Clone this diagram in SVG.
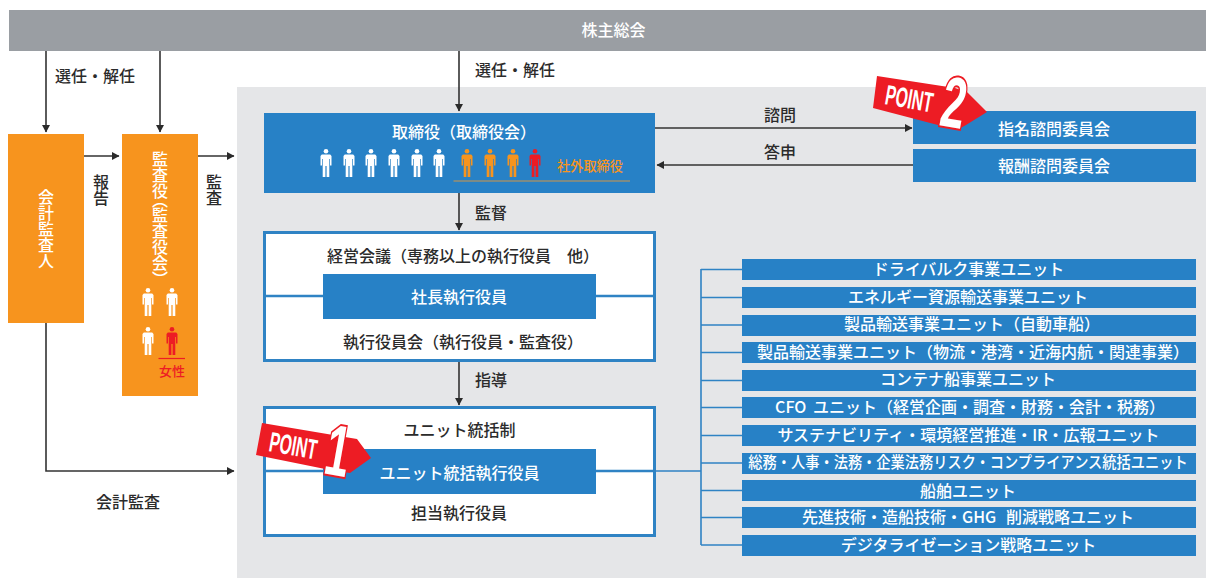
<svg xmlns="http://www.w3.org/2000/svg" xmlns:xlink="http://www.w3.org/1999/xlink" width="1206" height="578" viewBox="0 0 1206 578">
<style>
text{font-family:"Noto Sans CJK JP","Noto Sans",sans-serif;font-weight:500}
.c{text-anchor:middle}
.w{fill:#fff;font-size:16px}
.d{fill:#2b2b2b;font-size:16px}
.v{writing-mode:vertical-rl;text-anchor:middle;font-size:16px;font-feature-settings:"vpal"}
.blue{fill:#2781c6}
.org{fill:#f7941e}
.ln{stroke:#333;stroke-width:1.6;fill:none}
.bl{stroke:#2f83c4;stroke-width:1.6;fill:none}
.frame{fill:#fff;stroke:#2f83c4;stroke-width:3}
.pt{font-family:"Liberation Sans",sans-serif;font-weight:700;fill:#fff}
</style>
<defs>
<marker id="a" markerWidth="8" markerHeight="8" refX="7" refY="4" orient="auto" markerUnits="userSpaceOnUse"><path d="M0 0L7.500 4L0 8Z" fill="#2b2b2b"/></marker>
<symbol id="p" viewBox="0 0 12 28" overflow="visible"><circle cx="6" cy="2.300" r="2.300"/><path d="M1.800 5.500H10.200L11.500 7V16.500H10V10H9.300V28H6.600V17H5.400V28H2.700V10H2V16.500H.5V7Z"/></symbol>
</defs>
<rect id="panel" x="237" y="87" width="969" height="491" fill="#e5e6e8"/>
<g id="connectors">
<path class="ln" marker-end="url(#a)" d="M46 51V132"/>
<path class="ln" marker-end="url(#a)" d="M160 51V132"/>
<path class="ln" marker-end="url(#a)" d="M459 51V111"/>
<path class="ln" marker-end="url(#a)" d="M84 156H119"/>
<path class="ln" marker-end="url(#a)" d="M198 156H234"/>
<path class="ln" marker-end="url(#a)" d="M655 128H912"/>
<path class="ln" marker-end="url(#a)" d="M913 165H657"/>
<path class="ln" marker-end="url(#a)" d="M459 193V230"/>
<path class="ln" marker-end="url(#a)" d="M459 361V405"/>
<path class="ln" marker-end="url(#a)" d="M46 323V471H234"/>
</g>
<g id="n-shareholders"><rect x="9" y="10" width="1197" height="41" fill="#9a9ea3"/><text class="c w" x="613.500" y="36">株主総会</text></g>
<g id="n-accountant"><rect class="org" x="8" y="134" width="76" height="189"/><text class="v" fill="#fff" x="46" y="228.500">会計監査人</text></g>
<g id="n-auditors"><rect class="org" x="122" y="134" width="76" height="262"/><text class="v" fill="#fff" x="160" y="215">監査役（監査役会）</text>
<g fill="#fff"><use xlink:href="#p" x="142" y="288" width="12" height="28"/><use xlink:href="#p" x="166" y="288" width="12" height="28"/><use xlink:href="#p" x="142" y="327" width="12" height="28"/></g><use xlink:href="#p" x="166" y="327" width="12" height="28" fill="#ed1c24"/>
<path d="M158.500 358.500H185" stroke="#ed1c24" stroke-width="1.200"/><text class="c" x="172" y="376" font-size="13" fill="#ed1c24">女性</text></g>
<g id="n-board"><rect class="blue" x="264" y="113" width="391" height="80"/><text class="c w" x="464" y="138">取締役（取締役会）</text>
<g fill="#fff"><use xlink:href="#p" x="320" y="149" width="12" height="28"/><use xlink:href="#p" x="343" y="149" width="12" height="28"/><use xlink:href="#p" x="365" y="149" width="12" height="28"/><use xlink:href="#p" x="388" y="149" width="12" height="28"/><use xlink:href="#p" x="411" y="149" width="12" height="28"/><use xlink:href="#p" x="433" y="149" width="12" height="28"/></g>
<g fill="#f7941e"><use xlink:href="#p" x="461" y="149" width="12" height="28"/><use xlink:href="#p" x="484" y="149" width="12" height="28"/><use xlink:href="#p" x="507" y="149" width="12" height="28"/></g><use xlink:href="#p" x="529" y="149" width="12" height="28" fill="#ed1c24"/>
<path d="M453.500 181H630" stroke="#9a8f70" stroke-width="1.500"/><text class="c" x="590" y="171" font-size="13.200" fill="#f7941e">社外取締役</text></g>
<g id="n-nomination"><rect class="blue" x="913" y="111" width="283" height="33"/><text class="c w" x="1054" y="135">指名諮問委員会</text></g>
<g id="n-remuneration"><rect class="blue" x="913" y="149" width="283" height="33"/><text class="c w" x="1054" y="172">報酬諮問委員会</text></g>
<g id="n-management"><rect class="frame" x="264.500" y="232.500" width="390" height="128"/><path class="bl" style="stroke-width:2.500" d="M264 296H655"/><rect class="blue" x="323" y="274" width="273" height="45"/>
<text class="c d" x="463" y="262">経営会議（専務以上の執行役員　他）</text><text class="c w" x="459" y="303">社長執行役員</text><text class="c d" x="463" y="348">執行役員会（執行役員・監査役）</text></g>
<g id="n-unit"><rect class="frame" x="264.500" y="407.500" width="390" height="128"/><path class="bl" style="stroke-width:2.500" d="M264 471H655"/><rect class="blue" x="323" y="449" width="273" height="45"/>
<text class="c d" x="459.500" y="436">ユニット統括制</text><text class="c w" x="459.500" y="479">ユニット統括執行役員</text><text class="c d" x="459" y="519">担当執行役員</text></g>
<g id="unit-lines"><path class="bl" d="M655 471H701M701 269V545M701 269.500H742M701 297.500H742M701 325H742M701 352.500H742M701 380.500H742M701 407.500H742M701 435.500H742M701 463H742M701 490.500H742M701 517.500H742M701 545H742"/></g>
<g id="n-u1"><rect class="blue" x="742" y="259" width="454" height="21"/><text class="c w" x="968.500" y="275">ドライバルク事業ユニット</text></g>
<g id="n-u2"><rect class="blue" x="742" y="287" width="454" height="21"/><text class="c w" x="968" y="303">エネルギー資源輸送事業ユニット</text></g>
<g id="n-u3"><rect class="blue" x="742" y="315" width="454" height="21"/><text class="c w" x="972" y="330">製品輸送事業ユニット（自動車船）</text></g>
<g id="n-u4"><rect class="blue" x="742" y="342" width="454" height="21"/><text class="c w" x="973" y="358">製品輸送事業ユニット（物流・港湾・近海内航・関連事業）</text></g>
<g id="n-u5"><rect class="blue" x="742" y="370" width="454" height="21"/><text class="c w" x="968" y="385">コンテナ船事業ユニット</text></g>
<g id="n-u6"><rect class="blue" x="742" y="397" width="454" height="21"/><text class="c w" x="970" y="413" word-spacing="3">CFO ユニット（経営企画・調査・財務・会計・税務）</text></g>
<g id="n-u7"><rect class="blue" x="742" y="425" width="454" height="21"/><text class="c w" x="968.500" y="441">サステナビリティ・環境経営推進・IR・広報ユニット</text></g>
<g id="n-u8"><rect class="blue" x="742" y="453" width="454" height="21"/><text class="c w" transform="translate(968 468) scale(.89 1)">総務・人事・法務・企業法務リスク・コンプライアンス統括ユニット</text></g>
<g id="n-u9"><rect class="blue" x="742" y="480" width="454" height="21"/><text class="c w" x="968" y="497">船舶ユニット</text></g>
<g id="n-u10"><rect class="blue" x="742" y="507" width="454" height="21"/><text class="c w" x="968" y="523" word-spacing="6">先進技術・造船技術・GHG 削減戦略ユニット</text></g>
<g id="n-u11"><rect class="blue" x="742" y="535" width="454" height="21"/><text class="c w" x="968.500" y="551">デジタライゼーション戦略ユニット</text></g>
<g id="labels">
<text class="d" x="55" y="82">選任・解任</text><text class="d" x="475" y="76">選任・解任</text>
<text class="v" fill="#2b2b2b" x="101" y="190">報告</text><text class="v" fill="#2b2b2b" x="214" y="190">監査</text>
<text class="c d" x="780" y="121">諮問</text><text class="c d" x="780" y="158">答申</text>
<text class="d" x="475" y="219">監督</text><text class="d" x="475" y="386">指導</text>
<text class="c d" x="128" y="508">会計監査</text>
</g>
<g id="point1"><path fill="#ed1c24" d="M262 423L345 437L357 439L371 458L350 473L330 470L256 455Z"/>
<text class="pt" font-size="28" transform="translate(268 451) rotate(10) scale(.56 1)">POINT</text>
<text class="pt" font-size="72" stroke="#ed1c24" stroke-width="4" paint-order="stroke" transform="translate(322 473) rotate(10) scale(.6 1)">1</text></g>
<g id="point2"><path fill="#ed1c24" d="M877 76L955 88L967 92L987 112L966 125L957 130L873 108Z"/>
<text class="pt" font-size="28" transform="translate(884 104) rotate(10) scale(.56 1)">POINT</text>
<text class="pt" font-size="72" stroke="#ed1c24" stroke-width="4" paint-order="stroke" transform="translate(938 125) rotate(10) scale(.6 1)">2</text></g>
</svg>
